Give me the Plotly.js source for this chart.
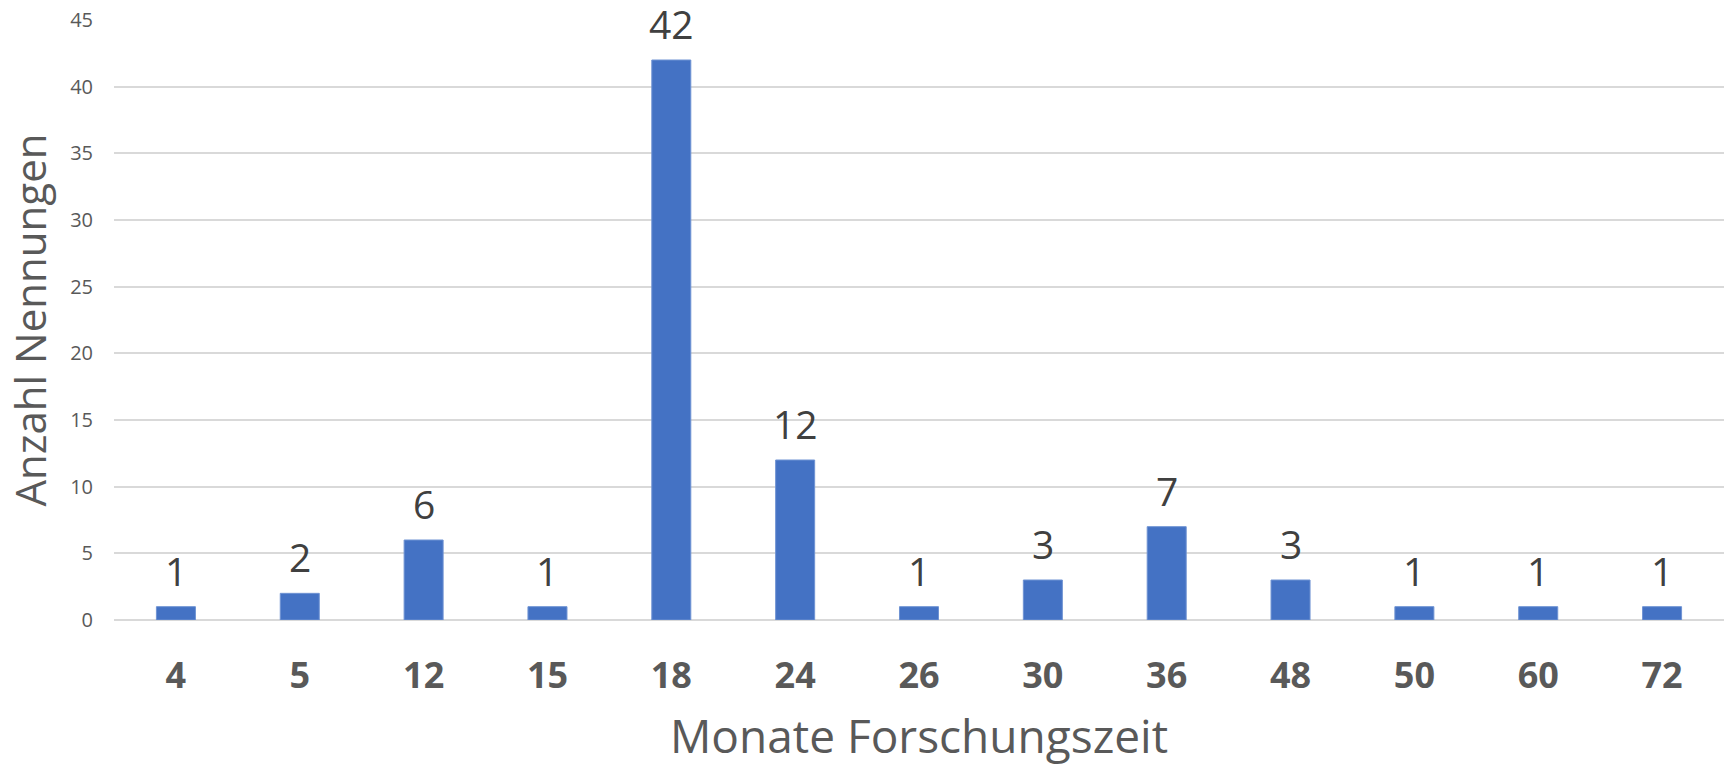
<!DOCTYPE html>
<html>
<head>
<meta charset="utf-8">
<script src="https://cdn.plot.ly/plotly-3.0.1.min.js"></script>
<style>
  html, body { margin: 0; padding: 0; background: #fff; }
  #chart { width: 1726px; height: 766px; }
</style>
</head>
<body>
<div id="chart"></div>
<script>
// Monate Forschungszeit (categories) and number of mentions
var months = ['4', '5', '12', '15', '18', '24', '26', '30', '36', '48', '50', '60', '72'];
var counts = [1, 2, 6, 1, 42, 12, 1, 3, 7, 3, 1, 1, 1];
var yTicks = [0, 5, 10, 15, 20, 25, 30, 35, 40, 45];

var font = 'Open Sans, Noto Sans, sans-serif';

var bars = {
    x: months,
    y: counts,
    type: 'bar',
    marker: { color: '#4472c4', line: { color: '#6f93d3', width: 1 } },
    hoverinfo: 'x+y'
};

// value labels above each bar (x given as category index)
var labels = counts.map(function(c, i) {
    return {
        x: i,
        y: c,
        text: String(c),
        showarrow: false,
        xanchor: 'center',
        yanchor: 'bottom',
        yshift: 9,
        borderpad: 0,
        font: { family: font, size: 39, color: '#404040' }
    };
});

var layout = {
    width: 1726,
    height: 766,
    margin: { l: 114, r: 2, t: 20, b: 146 },
    paper_bgcolor: '#ffffff',
    plot_bgcolor: '#ffffff',
    showlegend: false,
    bargap: 0.685,
    font: { family: font, color: '#595959' },
    xaxis: {
        type: 'category',
        range: [-0.5, months.length - 0.5],
        tickmode: 'array',
        tickvals: months,
        ticktext: months,
        tickfont: { family: font, size: 36, color: '#595959', weight: 'bold' },
        ticks: '',
        ticklabelstandoff: 31,
        showgrid: false,
        showline: false,
        title: {
            text: 'Monate Forschungszeit',
            font: { family: font, size: 46, color: '#595959' },
            standoff: 30
        }
    },
    yaxis: {
        range: [0, 45],
        tickvals: yTicks,
        tickfont: { family: font, size: 20, color: '#595959' },
        ticks: '',
        ticklabelstandoff: 20,
        showgrid: true,
        gridcolor: '#d9d9d9',
        gridwidth: 2,
        zeroline: true,
        zerolinecolor: '#d9d9d9',
        zerolinewidth: 2,
        showline: false,
        title: {
            text: 'Anzahl Nennungen',
            font: { family: font, size: 42, color: '#595959' },
            standoff: 10
        }
    },
    annotations: labels
};

Plotly.newPlot('chart', [bars], layout, { displayModeBar: false, staticPlot: true });
</script>
</body>
</html>
